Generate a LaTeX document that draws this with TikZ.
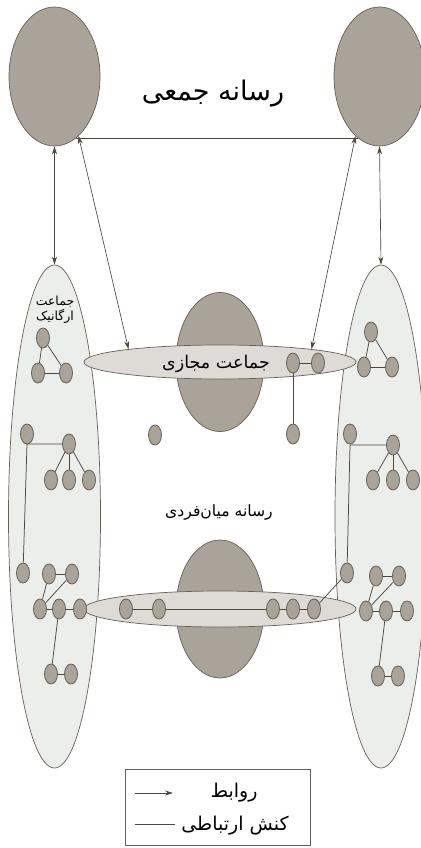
\documentclass[tikz,border=0pt]{standalone}
\usepackage{fontspec}
\newfontfamily\arabicfont[Script=Arabic]{DejaVu Sans}
\TeXXeTstate=1
\usetikzlibrary{shapes.geometric,arrows.meta}
\definecolor{darkfill}{HTML}{A9A399}
\definecolor{darkline}{HTML}{675F56}
\definecolor{orgfill}{HTML}{ECEEEC}
\definecolor{virtfill}{HTML}{DEDBD6}
\definecolor{conn}{HTML}{4F463E}
\pgfdeclarelayer{bg}
\pgfdeclarelayer{mid}
\pgfsetlayers{bg,mid,main}
\tikzset{
  bigell/.style={ellipse, draw=darkline, fill=darkfill, line width=0.7pt, inner sep=0pt},
  orgell/.style={ellipse, draw=darkline, fill=orgfill, line width=0.7pt, inner sep=0pt},
  virtell/.style={ellipse, draw=darkline, fill=virtfill, line width=0.7pt, inner sep=0pt},
  gnode/.style={ellipse, draw=darkline, fill=darkfill, line width=0.8pt, inner sep=0pt, minimum width=13pt, minimum height=20pt},
  link/.style={draw=conn, line width=0.75pt},
  tipa/.tip={Stealth[length=8pt,width=5pt]},
  rel/.style={draw=conn, line width=0.65pt, tipa-tipa},
  lab/.style={font=\arabicfont, text=black, inner sep=0pt},
  legbox/.style={draw=darkline, line width=0.6pt, minimum width=185pt, minimum height=76pt, inner sep=0pt}
}
\begin{document}
\begin{tikzpicture}[x=1pt,y=-1pt]
\useasboundingbox (0,0) rectangle (420,848);
\begin{pgfonlayer}{bg}
  \node[bigell, minimum width=91pt, minimum height=139pt] (tl) at (54.5,76.5) {};
  \node[bigell, minimum width=91pt, minimum height=139pt] (tr) at (379.5,76.5) {};
  \node[orgell, minimum width=92pt, minimum height=503pt] (lorg) at (54.5,516.5) {};
  \node[orgell, minimum width=92pt, minimum height=503pt] (rorg) at (381,516.5) {};
  \node[bigell, minimum width=88pt, minimum height=139pt] (mtop) at (220,362) {};
  \node[bigell, minimum width=88pt, minimum height=138pt] (mbot) at (220,609) {};
  \node[virtell, minimum width=272pt, minimum height=34pt] (virt) at (220,362) {};
  \node[virtell, minimum width=272pt, minimum height=36pt] (inter) at (220,609) {};
\end{pgfonlayer}

% small nodes, left
\node[gnode] (L1) at (43,338) {};
\node[gnode] (L2) at (38,373) {};
\node[gnode] (L3) at (66,373) {};
\node[gnode] (L4) at (27,434) {};
\node[gnode] (L5) at (69,444) {};
\node[gnode] (L6) at (51,480) {};
\node[gnode] (L7) at (69,480) {};
\node[gnode] (L8) at (89,480) {};
\node[gnode] (L9) at (23,573) {};
\node[gnode] (L10) at (49,574) {};
\node[gnode] (L11) at (72,574) {};
\node[gnode] (L12) at (40,609) {};
\node[gnode] (L13) at (59,609) {};
\node[gnode] (L14) at (80,609) {};
\node[gnode] (L15) at (51,674) {};
\node[gnode] (L16) at (71,674) {};
\coordinate (cL) at (27,444);
% middle
\node[gnode] (V1) at (293,363) {};
\node[gnode] (V2) at (318,363) {};
\node[gnode] (V3) at (293,434) {};
\node[gnode] (M1) at (155,435) {};
\node[gnode] (B1) at (126,609) {};
\node[gnode] (B2) at (159,609) {};
\node[gnode] (B3) at (273,609) {};
\node[gnode] (B4) at (293,609) {};
\node[gnode] (B5) at (314,609) {};
% right
\node[gnode] (R1) at (371,332) {};
\node[gnode] (R2) at (364,367) {};
\node[gnode] (R3) at (392,367) {};
\node[gnode] (R4) at (350,434) {};
\node[gnode] (R5) at (393,445) {};
\node[gnode] (R6) at (373,480) {};
\node[gnode] (R7) at (393,480) {};
\node[gnode] (R8) at (413,480) {};
\node[gnode] (R9) at (347,573) {};
\node[gnode] (R10) at (376,576) {};
\node[gnode] (R11) at (399,576) {};
\node[gnode] (R12) at (366,611) {};
\node[gnode] (R13) at (386,611) {};
\node[gnode] (R14) at (407,611) {};
\node[gnode] (R15) at (378,676) {};
\node[gnode] (R16) at (398,676) {};
\coordinate (cR) at (350,445);

\begin{pgfonlayer}{mid}
  % mass media links
  \draw[link] (tl.-71) -- (tr.-109);
  \draw[rel] (tl.south) -- (lorg.north);
  \draw[rel] (tr.south) -- (rorg.north);
  \draw[rel] (tl.-68) -- (virt.172);
  \draw[rel] (tr.-112) -- (virt.8);
  % left links
  \draw[link] (L1) -- (L2);
  \draw[link] (L1) -- (L3);
  \draw[link] (L2) -- (L3);
  \draw[link] (L5) -- (cL) -- (L9);
  \draw[link] (L5) -- (L6);
  \draw[link] (L5) -- (L7);
  \draw[link] (L5) -- (L8);
  \draw[link] (L10) -- (L11);
  \draw[link] (L12) -- (L10);
  \draw[link] (L12) -- (L11);
  \draw[link] (L12) -- (L13);
  \draw[link] (L13) -- (L14);
  \draw[link] (L13) -- (L15);
  \draw[link] (L15) -- (L16);
  % middle links
  \draw[link] (V1) -- (V2);
  \draw[link] (V1) -- (V3);
  \draw[link] (B1) -- (B2);
  \draw[link] (B2) -- (B3);
  \draw[link] (B3) -- (B4);
  \draw[link] (B4) -- (B5);
  \draw[link] (B5) -- (R9);
  % right links
  \draw[link] (R1) -- (R2);
  \draw[link] (R1) -- (R3);
  \draw[link] (R2) -- (R3);
  \draw[link] (R5) -- (cR) -- (R9);
  \draw[link] (R5) -- (R6);
  \draw[link] (R5) -- (R7);
  \draw[link] (R5) -- (R8);
  \draw[link] (R10) -- (R11);
  \draw[link] (R12) -- (R10);
  \draw[link] (R12) -- (R11);
  \draw[link] (R12) -- (R13);
  \draw[link] (R13) -- (R14);
  \draw[link] (R13) -- (R15);
  \draw[link] (R15) -- (R16);
\end{pgfonlayer}

% labels
\node[lab, font=\arabicfont\fontsize{27}{32}\selectfont] (tmass) at (213,94) {\beginR رسانه جمعی\endR};
\node[lab, font=\arabicfont\fontsize{17.5}{21}\selectfont] (tvirt) at (216,364) {\beginR جماعت مجازی\endR};
\node[lab, font=\arabicfont\fontsize{15.6}{19}\selectfont] (tinter) at (219,512) {\beginR رسانه میان‌فردی\endR};
\node[lab, font=\arabicfont\fontsize{12.5}{15}\selectfont, align=center] (torg) at (55,310) {\beginR جماعت\endR\\\beginR ارگانیک\endR};

% legend
\node[legbox] (leg) at (217.5,807) {};
\coordinate (a1) at (135,793);
\coordinate (a2) at (173,793);
\coordinate (b1) at (135,824);
\coordinate (b2) at (175,824);
\draw[draw=conn, line width=0.65pt, -tipa] (a1) -- (a2);
\draw[link] (b1) -- (b2);
\node[lab, font=\arabicfont\fontsize{19}{23}\selectfont] (trel) at (234,793) {\beginR روابط\endR};
\node[lab, font=\arabicfont\fontsize{19}{23}\selectfont] (tcom) at (235,826) {\beginR کنش ارتباطی\endR};
\end{tikzpicture}
\end{document}
